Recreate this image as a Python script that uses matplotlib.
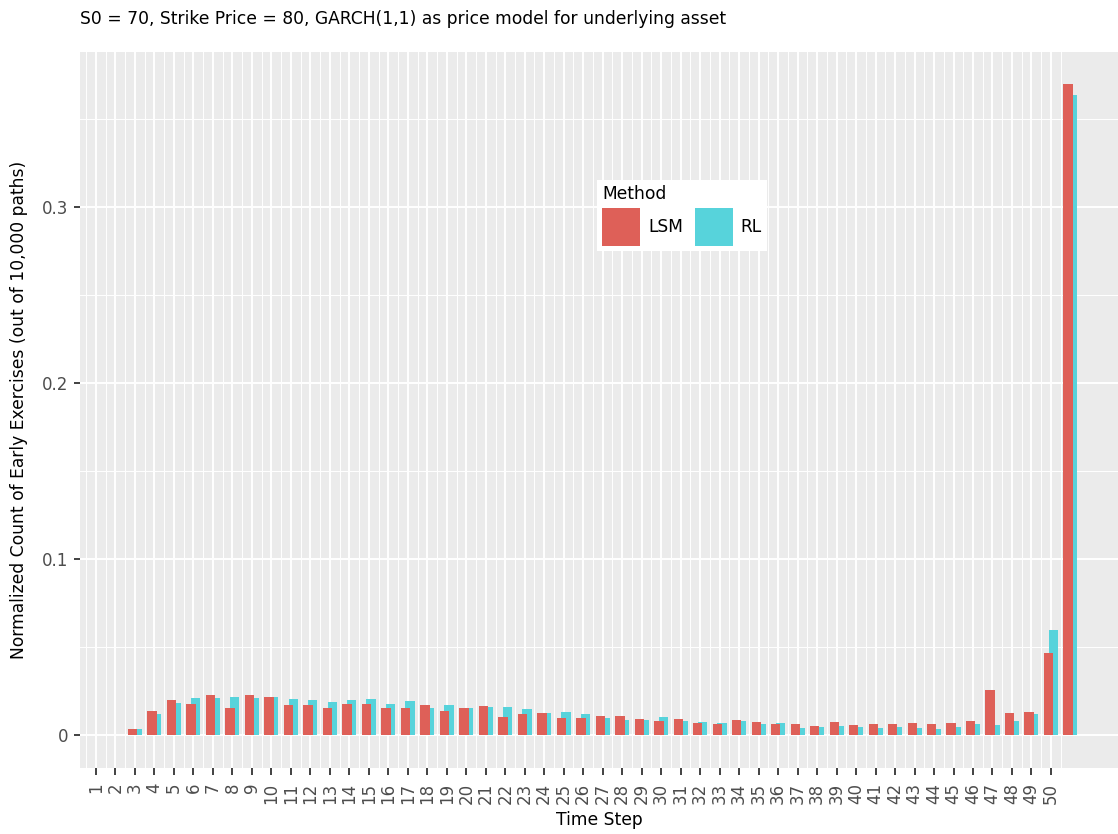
import numpy as np
import matplotlib.pyplot as plt
from matplotlib.patches import Patch

# ----------------------------------------------------
# DATA: share of early exercises per time step

steps = np.arange(1, 52)
tick_labels = [str(s) for s in range(1, 51)]

lsm = [0.0, 0.0, 0.0039, 0.0137, 0.0202, 0.0177, 0.0228, 0.0158, 0.0228, 0.0219,
       0.0171, 0.0171, 0.0154, 0.0179, 0.0181, 0.0154, 0.0158, 0.0171, 0.0137, 0.0154,
       0.0169, 0.0105, 0.0124, 0.0128, 0.0098, 0.0098, 0.0111, 0.0111, 0.0094, 0.0084,
       0.0094, 0.0073, 0.0067, 0.0088, 0.0077, 0.0064, 0.0064, 0.0054, 0.0077, 0.0060,
       0.0067, 0.0065, 0.0071, 0.0064, 0.0073, 0.0081, 0.0257, 0.0128, 0.0133, 0.0470,
       0.3700]
rl = [0.0, 0.0, 0.0035, 0.0120, 0.0185, 0.0215, 0.0213, 0.0220, 0.0211, 0.0219,
      0.0207, 0.0203, 0.0190, 0.0202, 0.0207, 0.0181, 0.0194, 0.0158, 0.0171, 0.0154,
      0.0164, 0.0160, 0.0152, 0.0129, 0.0133, 0.0120, 0.0099, 0.0090, 0.0088, 0.0103,
      0.0082, 0.0077, 0.0073, 0.0081, 0.0064, 0.0073, 0.0044, 0.0050, 0.0054, 0.0047,
      0.0043, 0.0048, 0.0043, 0.0037, 0.0050, 0.0064, 0.0060, 0.0081, 0.0122, 0.0597,
      0.3637]

methods = ['LSM', 'RL']
colors = {'LSM': '#DE6058', 'RL': '#57D3DB'}

# ----------------------------------------------------
# PLOT

fig = plt.figure(figsize=(11.18, 8.34), dpi=100)
ax = fig.add_axes([80 / 1118, 1 - 768 / 834, 1038 / 1118, 716 / 834])
ax.set_facecolor('#EBEBEB')
for sp in ax.spines.values():
    sp.set_visible(False)

width = 0.48
ax.bar(steps + 0.12, rl, width=width, color=colors['RL'], zorder=2)
ax.bar(steps - 0.12, lsm, width=width, color=colors['LSM'], zorder=3)

ax.set_xlim(0.18, 53.44)
ax.set_ylim(-0.0185, 0.3882)

ax.set_xticks(range(1, 51))
ax.set_xticklabels(tick_labels, rotation=90)
ax.set_xticks(np.arange(0.5, 51, 1.0), minor=True)
ax.set_yticks([0, 0.1, 0.2, 0.3])
ax.set_yticklabels(['0', '0.1', '0.2', '0.3'])
ax.set_yticks([0.05, 0.15, 0.25, 0.35], minor=True)

ax.grid(which='major', color='white', linewidth=1.4, zorder=0)
ax.grid(which='minor', color='white', linewidth=0.7, zorder=0)
ax.set_axisbelow(True)

ax.tick_params(which='major', length=4.5, width=1.3, color='#333333',
               labelcolor='#4D4D4D', labelsize=12, pad=4)
ax.tick_params(axis='x', which='major', length=5, pad=5.5)
ax.tick_params(which='minor', length=0)

ax.set_xlabel('Time Step', fontsize=12.3, labelpad=5)
ax.set_ylabel('Normalized Count of Early Exercises (out of 10,000 paths)',
              fontsize=12.3, labelpad=10)

fig.text(80 / 1118, 1 - 19 / 834,
         'S0 = 70, Strike Price = 80, GARCH(1,1) as price model for underlying asset',
         fontsize=12.3, va='center', ha='left')

handles = [Patch(facecolor=colors[m], edgecolor='none') for m in methods]
leg = ax.legend(handles, methods, title='Method', ncol=2,
                loc='upper left', bbox_to_anchor=(597 / 1118, 1 - 180 / 834),
                bbox_transform=fig.transFigure,
                fontsize=12.3, title_fontsize=12.3,
                handlelength=2.22, handleheight=3.05, handletextpad=0.47,
                columnspacing=0.7, borderpad=0.3, labelspacing=0.3,
                frameon=True, fancybox=False, facecolor='white',
                edgecolor='none', framealpha=1.0, alignment='left',
                borderaxespad=0)

fig.savefig('out.png', dpi=100)
